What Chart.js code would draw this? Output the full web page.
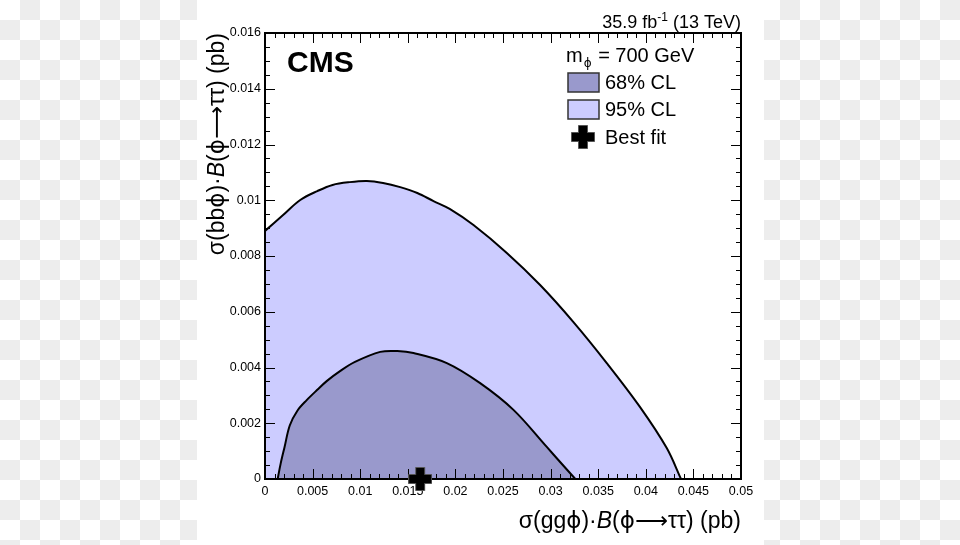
<!DOCTYPE html>
<html>
<head>
<meta charset="utf-8">
<script src="https://cdn.jsdelivr.net/npm/chart.js@4/dist/chart.umd.min.js"></script>
<style>
  html, body { margin: 0; padding: 0; }
  body {
    width: 960px; height: 545px; overflow: hidden; position: relative;
    background-color: #fff;
    background-image: conic-gradient(#ededed 0 25%, #fff 0 50%, #ededed 0 75%, #fff 0);
    background-size: 40px 40px;
  }
  #panel { position: absolute; left: 197px; top: 0; width: 567px; height: 545px; background: #fff; }
  #wrap { position: absolute; left: 0; top: 0; width: 960px; height: 545px; }
</style>
</head>
<body>
<div id="panel"></div>
<div id="wrap"><canvas id="chart" width="960" height="545"></canvas></div>
<script>
// 95% CL contour (x = sigma(ggphi)*B, y = sigma(bbphi)*B, pb)
const cl95X = [0, 0.0019, 0.0037, 0.0055, 0.0071, 0.0089, 0.0107, 0.0124, 0.0142, 0.016, 0.0177, 0.0194,
  0.0219, 0.0254, 0.0289, 0.0324, 0.0359, 0.0394, 0.0422, 0.0437];
const cl95Y = [0.0089, 0.00947, 0.01001, 0.01033, 0.01055, 0.01065, 0.01069, 0.01062, 0.01047, 0.01026, 0.00997, 0.00969,
  0.00911, 0.00811, 0.00696, 0.00563, 0.00416, 0.00258, 0.00111, 0];

// 68% CL contour
const cl68X = [0.00133, 0.00165, 0.00205, 0.0026, 0.0034, 0.00438, 0.00546, 0.00651, 0.00788, 0.00945,
  0.0121, 0.0139, 0.0156, 0.0191, 0.0226, 0.0261, 0.0296, 0.031, 0.0326];
const cl68Y = [0, 0.00056, 0.00114, 0.00192, 0.00245, 0.00283, 0.00319, 0.00352, 0.00387, 0.0042,
  0.00456, 0.00459, 0.00452, 0.00416, 0.00344, 0.00248, 0.00115, 0.00061, 0];

// best fit
const bestFitX = [0.0163];
const bestFitY = [0];

// axes
const xMin = 0, xMax = 0.05, xStep = 0.005, xMinor = 0.001;
const yMin = 0, yMax = 0.016, yStep = 0.002, yMinor = 0.0005;

const FONT = '"Liberation Sans", Arial, Helvetica, sans-serif';
const SYM = '"DejaVu Sans", sans-serif';
const TITLE_SIZE = 23;

function pairs(xs, ys) {
  return xs.map((x, i) => ({ x: x, y: ys[i] }));
}

// thick cross marker, like ROOT's marker 34
function makeCross(size) {
  const c = document.createElement("canvas");
  c.width = size; c.height = size;
  const g = c.getContext("2d");
  const t = Math.round(size * 0.36);
  const o = (size - t) / 2;
  g.fillStyle = "#000";
  g.strokeStyle = "#555";
  g.lineWidth = 1;
  g.beginPath();
  g.moveTo(o, 0.5); g.lineTo(o + t, 0.5); g.lineTo(o + t, o); g.lineTo(size - 0.5, o);
  g.lineTo(size - 0.5, o + t); g.lineTo(o + t, o + t); g.lineTo(o + t, size - 0.5);
  g.lineTo(o, size - 0.5); g.lineTo(o, o + t); g.lineTo(0.5, o + t); g.lineTo(0.5, o); g.lineTo(o, o);
  g.closePath();
  g.fill(); g.stroke();
  return c;
}
const crossMarker = makeCross(24);

function pieceFont(p, size) {
  return (p.it ? "italic " : "") + size + "px " + (p.sym ? SYM : FONT);
}

// draw text made of plain / italic / symbol pieces
function drawPieces(ctx, pieces, size, x, y, align) {
  let total = 0;
  pieces.forEach(p => {
    ctx.font = pieceFont(p, size);
    total += ctx.measureText(p.t).width;
  });
  let cx = align === "right" ? x - total : x;
  ctx.textAlign = "left";
  ctx.textBaseline = "alphabetic";
  pieces.forEach(p => {
    ctx.font = pieceFont(p, size);
    ctx.fillText(p.t, cx, y);
    cx += ctx.measureText(p.t).width;
  });
  return total;
}

function titlePieces(prod) {
  return [
    { t: "σ(" + prod },
    { t: "ϕ", sym: true },
    { t: ")·" },
    { t: "B", it: true },
    { t: "(" },
    { t: "ϕ⟶", sym: true },
    { t: "ττ) (pb)" },
  ];
}

const framePlugin = {
  id: "frame",
  afterDatasetDraw(chart, args) {
    if (args.index !== 1) return; // after the 68% band, before the best-fit marker
    const ctx = chart.ctx;
    const a = chart.chartArea;
    const xs = chart.scales.x, ys = chart.scales.y;
    ctx.save();
    ctx.strokeStyle = "#000";
    ctx.lineWidth = 1;
    ctx.beginPath();
    const nx = Math.round((xMax - xMin) / xMinor);
    for (let i = 0; i <= nx; i++) {
      const px = Math.round(xs.getPixelForValue(xMin + i * xMinor)) + 0.5;
      const len = i % Math.round(xStep / xMinor) === 0 ? 10 : 5;
      ctx.moveTo(px, a.bottom); ctx.lineTo(px, a.bottom - len);
      ctx.moveTo(px, a.top); ctx.lineTo(px, a.top + len);
    }
    const ny = Math.round((yMax - yMin) / yMinor);
    for (let i = 0; i <= ny; i++) {
      const py = Math.round(ys.getPixelForValue(yMin + i * yMinor)) + 0.5;
      const len = i % Math.round(yStep / yMinor) === 0 ? 10 : 5;
      ctx.moveTo(a.left, py); ctx.lineTo(a.left + len, py);
      ctx.moveTo(a.right, py); ctx.lineTo(a.right - len, py);
    }
    ctx.stroke();
    ctx.lineWidth = 2;
    ctx.strokeRect(a.left, a.top, a.right - a.left, a.bottom - a.top);
    ctx.restore();
  },
  afterDraw(chart) {
    const ctx = chart.ctx;
    const a = chart.chartArea;
    ctx.save();
    ctx.fillStyle = "#000";

    // CMS label
    ctx.font = "bold 30px " + FONT;
    ctx.textAlign = "left";
    ctx.textBaseline = "alphabetic";
    ctx.fillText("CMS", 287, 72);

    // luminosity label
    ctx.font = "18px " + FONT;
    ctx.textAlign = "right";
    const tail = " (13 TeV)";
    const tw = ctx.measureText(tail).width;
    ctx.fillText(tail, a.right, 28);
    ctx.font = "12px " + FONT;
    const sw = ctx.measureText("-1").width;
    ctx.fillText("-1", a.right - tw, 21);
    ctx.font = "18px " + FONT;
    ctx.fillText("35.9 fb", a.right - tw - sw, 28);

    // legend
    ctx.textAlign = "left";
    ctx.font = "20px " + FONT;
    ctx.fillText("m", 566, 62);
    const mw = ctx.measureText("m").width;
    ctx.font = "12px " + SYM;
    ctx.fillText("ϕ", 566 + mw + 1, 67);
    const pw = ctx.measureText("ϕ").width;
    ctx.font = "20px " + FONT;
    ctx.fillText(" = 700 GeV", 566 + mw + pw + 2, 62);

    ctx.lineWidth = 1.5;
    ctx.strokeStyle = "#333";
    ctx.fillStyle = "#9999cc";
    ctx.fillRect(568, 73, 31, 19);
    ctx.strokeRect(568, 73, 31, 19);
    ctx.fillStyle = "#ccccff";
    ctx.fillRect(568, 100, 31, 19);
    ctx.strokeRect(568, 100, 31, 19);
    ctx.drawImage(crossMarker, 571, 125);
    ctx.fillStyle = "#000";
    ctx.fillText("68% CL", 605, 89);
    ctx.fillText("95% CL", 605, 116);
    ctx.fillText("Best fit", 605, 144);

    // axis titles
    drawPieces(ctx, titlePieces("gg"), TITLE_SIZE, a.right, 528, "right");
    const yPieces = titlePieces("bb");
    let w = 0;
    yPieces.forEach(p => {
      ctx.font = pieceFont(p, TITLE_SIZE);
      w += ctx.measureText(p.t).width;
    });
    ctx.translate(224, a.top + w);
    ctx.rotate(-Math.PI / 2);
    drawPieces(ctx, yPieces, TITLE_SIZE, 0, 0, "left");
    ctx.restore();
  }
};

function fmt(v) {
  return String(parseFloat(Number(v).toFixed(4)));
}

new Chart(document.getElementById("chart"), {
  type: "line",
  data: {
    datasets: [
      {
        label: "Best fit",
        data: pairs(bestFitX, bestFitY),
        showLine: false,
        pointStyle: crossMarker,
        pointRadius: 12,
        clip: false,
        order: 0,
      },
      {
        label: "68% CL",
        data: pairs(cl68X, cl68Y),
        borderColor: "#000",
        borderWidth: 2,
        backgroundColor: "#9999cc",
        fill: "origin",
        pointRadius: 0,
        tension: 0.35,
        order: 1,
      },
      {
        label: "95% CL",
        data: pairs(cl95X, cl95Y),
        borderColor: "#000",
        borderWidth: 2,
        backgroundColor: "#ccccff",
        fill: "origin",
        pointRadius: 0,
        tension: 0.35,
        order: 2,
      },
    ],
  },
  options: {
    responsive: false,
    animation: false,
    maintainAspectRatio: false,
    layout: { padding: { left: 197, right: 219, top: 33, bottom: 0 } },
    plugins: { legend: { display: false }, tooltip: { enabled: false } },
    scales: {
      x: {
        type: "linear",
        min: xMin,
        max: xMax,
        grid: { display: false, drawTicks: false },
        border: { display: false },
        afterFit: s => { s.height = 66; },
        ticks: {
          stepSize: xStep,
          autoSkip: false,
          maxRotation: 0,
          padding: 5,
          color: "#000",
          font: { family: FONT, size: 12.5 },
          callback: fmt,
        },
      },
      y: {
        type: "linear",
        min: yMin,
        max: yMax,
        grid: { display: false, drawTicks: false },
        border: { display: false },
        afterFit: s => { s.width = 68; },
        ticks: {
          stepSize: yStep,
          autoSkip: false,
          padding: 4,
          color: "#000",
          font: { family: FONT, size: 12.5 },
          callback: fmt,
        },
      },
    },
  },
  plugins: [framePlugin],
});
</script>
</body>
</html>
